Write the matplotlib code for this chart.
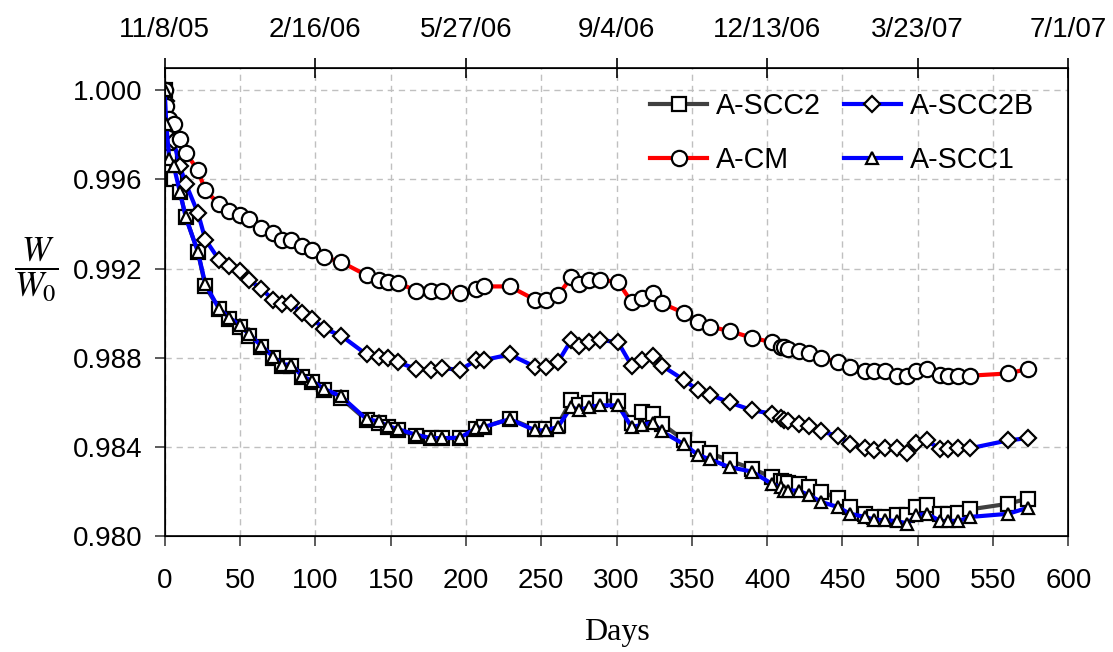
import matplotlib
matplotlib.use("Agg")
import matplotlib.pyplot as plt

days = [0, 1, 3, 6, 10, 14, 22, 27, 36, 43, 50, 56, 64, 72, 78, 84, 91, 98, 106, 117,
        134, 142, 148, 155, 167, 177, 184, 196, 207, 212, 229, 246, 253, 261, 270,
        275, 282, 289, 301, 310, 317, 324, 330, 345, 354, 362, 375, 390, 403, 409,
        411, 414, 421, 428, 436, 447, 455, 465, 471, 478, 486, 493, 499, 506, 515,
        520, 527, 535, 560, 573]

a_scc2 = [1.0000, 0.9984, 0.9970, 0.9960, 0.99545, 0.9943, 0.99275, 0.9912, 0.9902, 0.98975,
          0.9894, 0.9890, 0.98848, 0.9880, 0.98765, 0.98765, 0.98715, 0.9869, 0.98655, 0.9862,
          0.9852, 0.9851, 0.9849, 0.98475, 0.9845, 0.9844, 0.9844, 0.9844, 0.9848, 0.9849,
          0.98527, 0.9848, 0.9848, 0.9850, 0.9861, 0.98587, 0.98597, 0.9861, 0.98606, 0.9851,
          0.98557, 0.9855, 0.98505, 0.9843, 0.98393, 0.98373, 0.9834, 0.98303, 0.98266, 0.9825,
          0.98243, 0.98238, 0.98233, 0.9822, 0.9820, 0.9817, 0.98131, 0.98101, 0.98087, 0.98087,
          0.98094, 0.98094, 0.98131, 0.98139, 0.98101, 0.98101, 0.98104, 0.98121, 0.98146, 0.98169]

a_scc2b = [1.0000, 0.9995, 0.9982, 0.9977, 0.9966, 0.9958, 0.9945, 0.9933, 0.9924, 0.9921,
           0.9919, 0.9915, 0.9911, 0.9906, 0.9904, 0.99045, 0.9900, 0.98975, 0.9893, 0.9890,
           0.98815, 0.98805, 0.9880, 0.9878, 0.9875, 0.98745, 0.98755, 0.98745, 0.9879, 0.9879,
           0.98815, 0.9876, 0.9876, 0.9878, 0.9888, 0.98855, 0.9887, 0.9888, 0.9887, 0.98765,
           0.9879, 0.9881, 0.98765, 0.9870, 0.98655, 0.98635, 0.9860, 0.98565, 0.9855, 0.9853,
           0.9852, 0.98515, 0.98505, 0.98495, 0.9847, 0.9845, 0.98415, 0.98395, 0.98385, 0.98395,
           0.98395, 0.98375, 0.9842, 0.9843, 0.9839, 0.9839, 0.98395, 0.98395, 0.9843, 0.9844]

a_cm = [1.0000, 0.9993, 0.9987, 0.9985, 0.9978, 0.9972, 0.9964, 0.9955, 0.9949, 0.9946,
        0.9944, 0.9942, 0.9938, 0.9936, 0.9933, 0.9933, 0.9930, 0.99285, 0.9925, 0.9923,
        0.9917, 0.9915, 0.9914, 0.99136, 0.9910, 0.9910, 0.9910, 0.9909, 0.9911, 0.9912,
        0.9912, 0.9906, 0.9906, 0.9908, 0.9916, 0.9913, 0.9915, 0.9915, 0.9914, 0.9905,
        0.9907, 0.9909, 0.99045, 0.9900, 0.9896, 0.9894, 0.9892, 0.9889, 0.9887, 0.9885,
        0.9885, 0.9884, 0.9883, 0.9882, 0.9880, 0.9878, 0.9876, 0.9874, 0.9874, 0.9874,
        0.9872, 0.9872, 0.9874, 0.9875, 0.98725, 0.9872, 0.9872, 0.9872, 0.9873, 0.9875]

a_scc1 = [1.0000, 0.9985, 0.9969, 0.9966, 0.99545, 0.9943, 0.99275, 0.9913, 0.9902, 0.9898,
          0.98945, 0.98905, 0.98855, 0.98805, 0.9877, 0.9877, 0.9872, 0.98695, 0.9866, 0.98628,
          0.98525, 0.98515, 0.98495, 0.9848, 0.98455, 0.9844, 0.9844, 0.98442, 0.98485, 0.9849,
          0.98525, 0.98475, 0.98475, 0.9849, 0.9858, 0.98565, 0.9858, 0.98587, 0.98587, 0.9849,
          0.9850, 0.9851, 0.9847, 0.98412, 0.98365, 0.98345, 0.9831, 0.9829, 0.98236, 0.9822,
          0.98205, 0.98205, 0.98205, 0.98184, 0.98154, 0.98131, 0.98101, 0.98087, 0.98075, 0.98072,
          0.98069, 0.98057, 0.98094, 0.98101, 0.98069, 0.98069, 0.98069, 0.98087, 0.98101, 0.98128]

date_ticks = [0, 100, 200, 300, 400, 500, 600]
date_labels = ["11/8/05", "2/16/06", "5/27/06", "9/4/06", "12/13/06", "3/23/07", "7/1/07"]

plt.rcParams['font.family'] = ['Liberation Sans', 'DejaVu Sans']
plt.rcParams['mathtext.fontset'] = 'stix'

fig = plt.figure(figsize=(11.13, 6.52), dpi=100)
ax = fig.add_axes([0.148, 0.1774, 0.8119, 0.7187])

mk = dict(markerfacecolor='white', markeredgecolor='black', markeredgewidth=1.6)
l1, = ax.plot(days, a_scc2, color='#404040', lw=3, marker='s', markersize=10.5, label='A-SCC2', **mk)
l2, = ax.plot(days, a_scc2b, color='#0000ff', lw=3, marker='D', markersize=8.6, label='A-SCC2B', **mk)
l3, = ax.plot(days, a_cm, color='#ff0000', lw=3, marker='o', markersize=11, label='A-CM', **mk)
l4, = ax.plot(days, a_scc1, color='#0000ff', lw=3, marker='^', markersize=8.3, label='A-SCC1', **mk)

ax.set_xlim(0, 600)
ax.set_ylim(0.980, 1.001)
ax.set_xticks(range(0, 601, 50))
ax.set_yticks([0.980, 0.984, 0.988, 0.992, 0.996, 1.000])
ax.set_yticklabels(['0.980', '0.984', '0.988', '0.992', '0.996', '1.000'])
ax.grid(True, color='#c0c0c0', linestyle=(0, (4.5, 3.5)), lw=1)
ax.set_axisbelow(True)
ax.tick_params(axis='both', labelsize=20, direction='out', length=7, width=1.2, color='#404040')
ax.tick_params(axis='x', pad=16)
ax.tick_params(axis='y', pad=9)
for s in ax.spines.values():
    s.set_linewidth(1.2)

ax.set_xlabel('Days', fontsize=23, family='Liberation Serif', labelpad=17)
fig.text(0.033, 0.587, r'$\dfrac{W}{W_{\mathrm{0}}}$', fontsize=25, ha='center', va='center')

top = ax.twiny()
top.set_xlim(ax.get_xlim())
top.set_xticks(date_ticks)
top.set_xticklabels(date_labels)
top.tick_params(axis='x', labelsize=20, direction='inout', length=14, width=1.2, pad=11)

ax.legend(handles=[l1, l3, l2, l4], ncol=2, loc='upper left', bbox_to_anchor=(0.537, 0.948),
          frameon=False, fontsize=20.6, handlelength=2.0, handletextpad=0.3,
          columnspacing=0.8, labelspacing=0.9, borderpad=0, borderaxespad=0)

fig.savefig('out.png', dpi=100)
